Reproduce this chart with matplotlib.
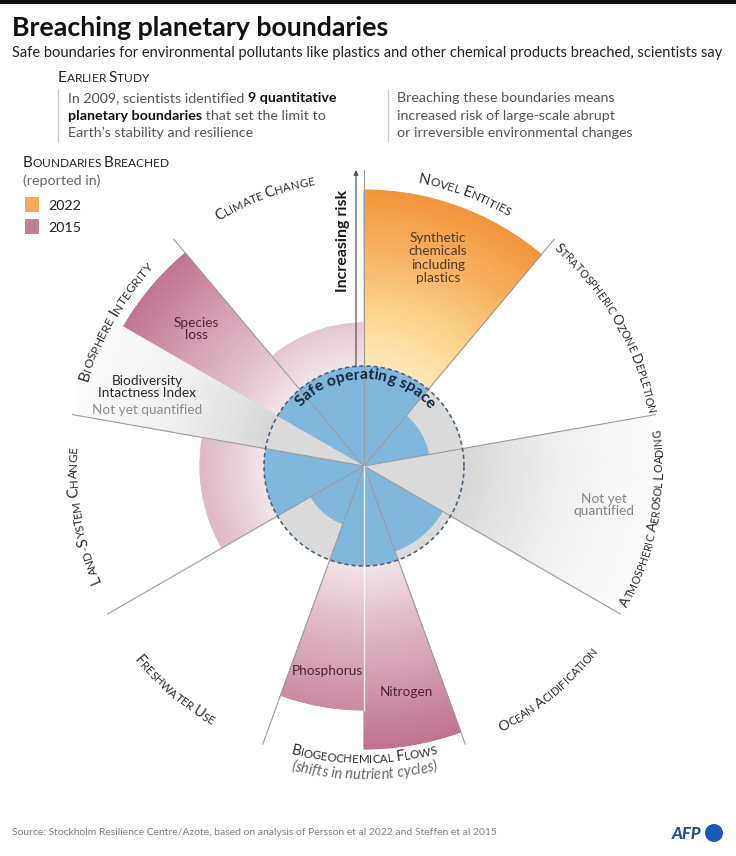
import numpy as np
import matplotlib
matplotlib.use("Agg")
import matplotlib.pyplot as plt
from matplotlib.colors import LinearSegmentedColormap
from matplotlib.font_manager import FontProperties, findfont, get_font
from matplotlib.patches import Rectangle, Circle

try:
    from matplotlib.ft2font import LoadFlags
    NO_HINT = LoadFlags.NO_HINTING
except ImportError:
    from matplotlib.ft2font import LOAD_NO_HINTING as NO_HINT

W, H, DPI = 736, 856, 100
FONT = "Lato"
plt.rcParams["font.family"] = [FONT, "DejaVu Sans"]

# ---------------------------------------------------------------- data
# nine boundaries, 40 degrees each, clockwise starting at novel entities
boundaries = ["NOVEL ENTITIES", "STRATOSPHERIC OZONE DEPLETION", "ATMOSPHERIC AEROSOL LOADING",
              "OCEAN ACIDIFICATION", "BIOGEOCHEMICAL FLOWS", "FRESHWATER USE",
              "LAND-SYSTEM CHANGE", "BIOSPHERE INTEGRITY", "CLIMATE CHANGE"]

# control variables (one or two per boundary)
seg_names = ["Synthetic\nchemicals\nincluding\nplastics", "Ozone", "Aerosols", "Ocean",
             "Phosphorus", "Nitrogen", "Freshwater", "Land", "Species\nloss",
             "Biodiversity\nIntactness Index", "Climate"]
seg_boundary = [0, 1, 2, 3, 4, 4, 5, 6, 7, 7, 8]
seg_half = [0, 0, 0, 0, -1, 1, 0, 0, -1, 1, 0]     # -1 lower-angle half, 1 upper half, 0 whole
# position relative to the safe limit (1 = boundary), nan = not yet quantified
seg_value = [2.76, 0.66, np.nan, 0.91, 2.44, 2.83, 0.62, 1.64, 2.78, np.nan, 1.43]
seg_year = [2022, 0, 0, 0, 2015, 2015, 0, 2015, 2015, 0, 2015]

legend_years = ["2022", "2015"]

# ---------------------------------------------------------------- helpers
def adv(ch, size_pt, weight="normal", style="normal"):
    font = get_font(findfont(FontProperties(family=FONT, weight=weight, style=style)))
    font.set_size(size_pt, 72)
    g = font.load_char(ord(ch), flags=NO_HINT)
    return g.linearHoriAdvance / 65536 * DPI / 72


def width_px(s, size_pt, weight="normal", style="normal"):
    return sum(adv(c, size_pt, weight, style) for c in s)


def fit(s, target_px, weight="normal", style="normal"):
    return 10 * target_px / width_px(s, 10, weight, style)


def small_caps(s, ratio=0.78):
    out, start = [], True
    for c in s:
        if c.isalpha():
            out.append((c, 1.0 if start else ratio))
            start = False
        else:
            out.append((c, ratio))
            start = True
    return out


fig = plt.figure(figsize=(W / DPI, H / DPI), dpi=DPI)
fig.patch.set_facecolor("white")

CX, CY, RPIX = 364, 466, 330
ax = fig.add_axes([(CX - RPIX) / W, (H - CY - RPIX) / H, 2 * RPIX / W, 2 * RPIX / H],
                  projection="polar", zorder=1)
ax.set_ylim(0, RPIX / 100)
ax.set_axis_off()

ax0 = fig.add_axes([0, 0, 1, 1], zorder=2)
ax0.set_xlim(0, W)
ax0.set_ylim(H, 0)
ax0.set_axis_off()


def arc_text(s, center_deg, radius, span_deg, outward=True, sc=True, color="#2b2b2b",
             weight="normal", style="normal"):
    chars = small_caps(s) if sc else [(c, 1.0) for c in s]
    r_px = radius * 100
    unit = sum(adv(c, 10 * k, weight, style) for c, k in chars) / 10
    size = np.radians(span_deg) * r_px / unit
    widths = np.array([adv(c, size * k, weight, style) for c, k in chars])
    pos = np.cumsum(widths) - widths / 2 - widths.sum() / 2
    sign = -1 if outward else 1
    for (c, k), p in zip(chars, pos):
        th = np.radians(center_deg) + sign * p / r_px
        rot = np.degrees(th) - 90 if outward else np.degrees(th) + 90
        ax.text(th, radius, c, rotation=rot, rotation_mode="anchor", ha="center",
                va="baseline", fontsize=size * k, color=color, fontweight=weight,
                fontstyle=style, zorder=6)


pink = LinearSegmentedColormap.from_list("pink", [(0, "#f3e4e9"), (0.25, "#e3c4cf"),
                                                  (0.6, "#d39eb2"), (1, "#c0718f")])
orange = LinearSegmentedColormap.from_list("orange", [(0, "#fee9b8"), (0.3, "#fcd48f"),
                                                      (0.65, "#f7b161"), (1, "#f2943a")])
greys = LinearSegmentedColormap.from_list("greys", [(0, "#d7d7d7"), (0.45, "#efefef"),
                                                    (1, "#fcfcfc")])
BLUE, SAFE_GREY = "#80b7dd", "#dadada"

# ---------------------------------------------------------------- wedges
ax.bar(0, 1, width=2 * np.pi, bottom=0, color=SAFE_GREY, edgecolor="none", zorder=2)

for name, b, half, v, yr in zip(seg_names, seg_boundary, seg_half, seg_value, seg_year):
    c = 70 - 40 * b
    if half == 0:
        t0, t1 = c - 20, c + 20
    elif half < 0:
        t0, t1 = c - 20, c
    else:
        t0, t1 = c, c + 20
    th = np.radians(np.linspace(t0, t1, 50))
    if np.isnan(v):
        rr = np.linspace(1, 2.95, 60)
        cmap, vmax = greys, 2.95
    else:
        ax.bar(np.radians((t0 + t1) / 2), min(v, 1), width=np.radians(t1 - t0), bottom=0,
               color=BLUE, edgecolor="none", zorder=3)
        if v <= 1:
            continue
        rr = np.linspace(1, v, 60)
        cmap, vmax = (orange, 2.8) if yr == 2022 else (pink, 2.85)
    T, R = np.meshgrid(th, rr)
    ax.pcolormesh(T, R, R, cmap=cmap, vmin=1, vmax=vmax, shading="gouraud", zorder=1)

# radial separators
for b in range(len(boundaries)):
    e = np.radians(70 - 40 * b + 20)
    ax.plot([e, e], [0, 2.96], color="#9c9c9c", lw=0.8, zorder=4)
ax.plot([np.radians(-90)] * 2, [0, 2.44], color="white", lw=1.0, alpha=0.8, zorder=4)

# safe operating space boundary
circ = np.linspace(0, 2 * np.pi, 600)
ax.plot(circ, np.ones_like(circ), color="#4c6580", lw=1.2, ls=(0, (2.5, 1.8)), zorder=5)
arc_text("Safe operating space", 89, 0.87, 96, sc=False, color="#15263a", weight="bold")

# boundary labels around the wheel: (centre angle, radius, span, outward)
label_geom = [(69.6, 2.88, 19.2, True), (29.6, 2.88, 38.4, True), (-10.6, 2.99, 35.3, False),
              (-50.5, 2.99, 24.2, False), (-90, 2.97, 28.6, False), (-130.2, 3.01, 19.5, False),
              (189.8, 2.87, 27.2, True), (149.9, 2.89, 26.2, True), (110.3, 2.85, 20.6, True)]
for name, (cdeg, rad, span, out) in zip(boundaries, label_geom):
    arc_text(name, cdeg, rad, span, outward=out)
arc_text("(shifts in nutrient cycles)", -90, 3.13, 27, outward=False, sc=False,
         color="#666666", style="italic")

# ---------------------------------------------------------------- inner labels
INNER = 9.8
ax0.text(438, 258, seg_names[0], ha="center", va="center", fontsize=INNER, color="#4d3a2c",
         linespacing=1.12)
ax0.text(196, 329, seg_names[8], ha="center", va="center", fontsize=INNER, color="#4e2534",
         linespacing=1.05)
ax0.text(147, 387, seg_names[9], ha="center", va="center", fontsize=INNER, color="#2b2b2b",
         linespacing=1.05)
ax0.text(147, 410, "Not yet quantified", ha="center", va="center", fontsize=INNER,
         color="#8c8c8c")
ax0.text(604, 505, "Not yet\nquantified", ha="center", va="center", fontsize=INNER,
         color="#858585", linespacing=1.05)
ax0.text(327, 671, seg_names[4], ha="center", va="center", fontsize=INNER, color="#4e2534")
ax0.text(406, 692, seg_names[5], ha="center", va="center", fontsize=INNER, color="#4e2534")

# increasing risk arrow
ax0.annotate("", xy=(356, 170), xytext=(356, 367),
             arrowprops=dict(arrowstyle="-|>", color="#555555", lw=0.9, mutation_scale=7,
                             shrinkA=0, shrinkB=0))
ax0.text(343, 241, "Increasing risk", rotation=90, ha="center", va="center",
         fontsize=fit("Increasing risk", 102, "bold"), fontweight="bold", color="#1a1a1a")

# ---------------------------------------------------------------- header
ax0.add_patch(Rectangle((0, 0), W, 3.5, color="#111111", lw=0))
ax0.text(12, 36, "Breaching planetary boundaries", fontsize=fit("Breaching planetary boundaries", 378, "bold"),
         fontweight="bold", color="#111111", va="baseline")
sub = "Safe boundaries for environmental pollutants like plastics and other chemical products breached, scientists say"
ax0.text(12, 57, sub, fontsize=fit(sub, 708), color="#222222", va="baseline")


def sc_line(x, y, s, target_px, color="#222222"):
    chars = small_caps(s)
    unit = sum(adv(c, 10 * k) for c, k in chars) / 10
    size = target_px / unit
    for c, k in chars:
        ax0.text(x, y, c, fontsize=size * k, color=color, va="baseline")
        x += adv(c, size * k)


sc_line(58, 82, "EARLIER STUDY", 91)

left_lines = [[("In 2009, scientists identified ", "normal"), ("9 quantitative", "bold")],
              [("planetary boundaries", "bold"), (" that set the limit to", "normal")],
              [("Earth\u2019s stability and resilience", "normal")]]
right_lines = ["Breaching these boundaries means", "increased risk of large-scale abrupt",
               "or irreversible environmental changes"]
body = 10 * 270 / sum(width_px(t, 10, w) for t, w in left_lines[0])
for i, parts in enumerate(left_lines):
    x = 68
    for t, w in parts:
        ax0.text(x, 102 + i * 17.5, t, fontsize=body, fontweight=w,
                 color="#111111" if w == "bold" else "#555555", va="baseline")
        x += width_px(t, body, w)
for i, t in enumerate(right_lines):
    ax0.text(397, 102 + i * 17.5, t, fontsize=body, color="#555555", va="baseline")
for x in (58, 388):
    ax0.plot([x, x], [90, 141], color="#cccccc", lw=0.9)

# ---------------------------------------------------------------- legend
sc_line(23, 167, "BOUNDARIES BREACHED", 145)
ax0.text(23, 185, "(reported in)", fontsize=body, color="#666666", va="baseline")
for i, (yr, col) in enumerate(zip(legend_years, [orange(0.75), pink(0.9)])):
    ax0.add_patch(Rectangle((25, 197 + i * 22), 14, 15, color=col, lw=0))
    ax0.text(48, 210 + i * 22, yr, fontsize=body, color="#222222", va="baseline")

# ---------------------------------------------------------------- footer
src = "Source: Stockholm Resilience Centre/Azote, based on analysis of Persson et al 2022 and Steffen et al 2015"
ax0.text(12, 835, src, fontsize=fit(src, 485), color="#808080", va="baseline")
ax0.text(672, 839, "AFP", fontsize=12, fontweight="black", fontstyle="italic", color="#1c4e9e",
         va="baseline")
ax0.add_patch(Circle((714, 833), 9, color="#1a5ab6", lw=0))

fig.savefig("out.png", dpi=DPI, facecolor="white")
